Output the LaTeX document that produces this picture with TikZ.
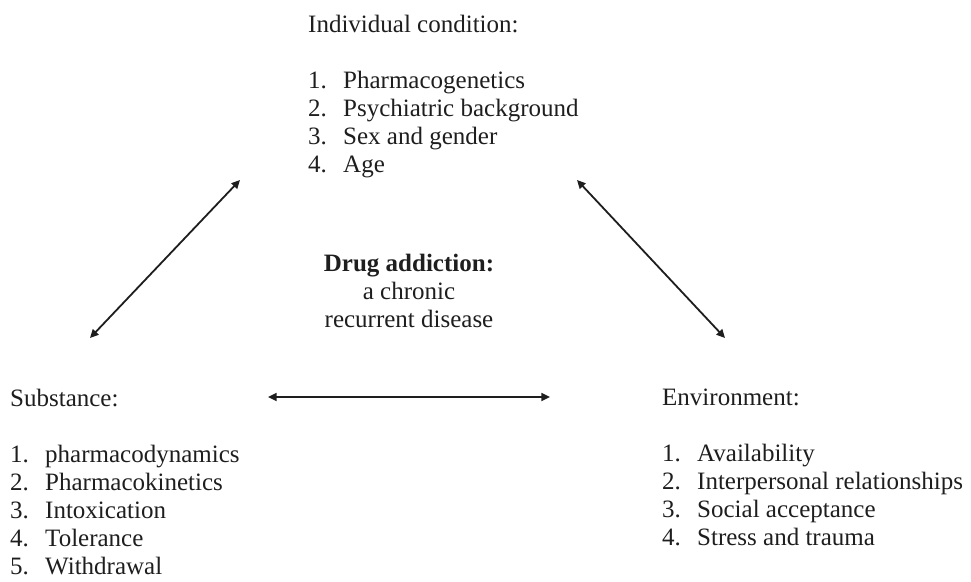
\documentclass[tikz,border=0pt]{standalone}
\usepackage{fontspec}
\setmainfont{Liberation Serif}
\usepackage{tikz}
\usetikzlibrary{calc,positioning}
\usetikzlibrary{arrows.meta}
\tikzset{>={Triangle[width=2.8mm,length=3mm]}}
\definecolor{inkgray}{RGB}{30,30,30}
\newcommand{\itm}[2]{\makebox[35pt][l]{#1}#2}

\begin{document}
\begin{tikzpicture}[x=1pt,y=-1pt]
      \tikzstyle{block} = [inner sep=0pt, anchor=north west, align=left, text=inkgray,
                           font=\fontsize{25pt}{28pt}\selectfont]
      \tikzstyle{link} = [<->, line width=1.8pt, draw=inkgray]
      \useasboundingbox (0,0) rectangle (971,581);

      \node[block] (ind) at (308,15) {Individual condition:\\[28pt]
        \itm{1.}{Pharmacogenetics}\\
        \itm{2.}{Psychiatric background}\\
        \itm{3.}{Sex and gender}\\
        \itm{4.}{Age}};
      \node[block] (sub) at (10,389) {Substance:\\[28pt]
        \itm{1.}{pharmacodynamics}\\
        \itm{2.}{Pharmacokinetics}\\
        \itm{3.}{Intoxication}\\
        \itm{4.}{Tolerance}\\
        \itm{5.}{Withdrawal}};
      \node[block] (env) at (662,389) {Environment:\\[28pt]
        \itm{1.}{Availability}\\
        \itm{2.}{Interpersonal relationships}\\
        \itm{3.}{Social acceptance}\\
        \itm{4.}{Stress and trauma}};
      \node[block, anchor=north, align=center] (drug) at (409,254)
        {\textbf{Drug addiction:}\\ a chronic\\ recurrent disease};

      % arrow ends
      \coordinate (lt) at (240,180);
      \coordinate (lb) at (90,338);
      \coordinate (rt) at (577,180);
      \coordinate (rb) at (725,338);
      \coordinate (ml) at (268,397);
      \coordinate (mr) at (550,397);

      \draw[link] (lb) -- (lt);
      \draw[link] (rt) -- (rb);
      \draw[link] (ml) -- (mr);
    \end{tikzpicture}
\end{document}
